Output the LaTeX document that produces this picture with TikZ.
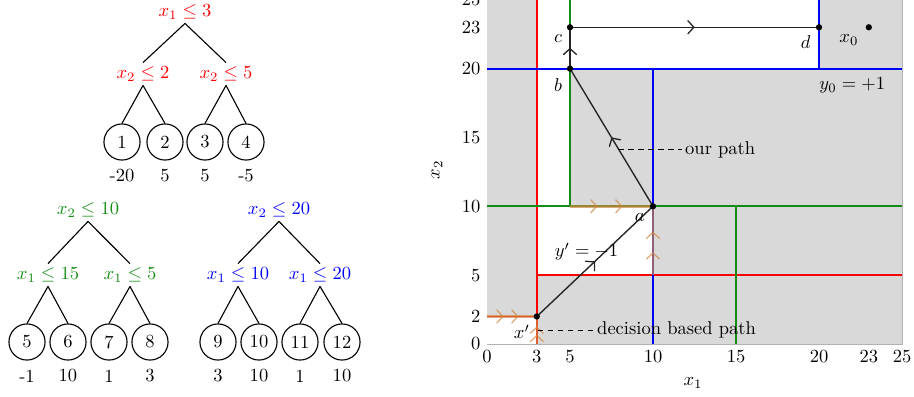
\documentclass[tikz,border=0pt]{standalone}
\usetikzlibrary{decorations.markings,arrows.meta}
\definecolor{tred}{RGB}{255,0,0}
\definecolor{tgreen}{RGB}{20,140,20}
\definecolor{tblue}{RGB}{0,0,255}
\definecolor{tbrown}{RGB}{210,135,65}
\definecolor{bggray}{RGB}{217,217,217}
\tikzset{
  cond/.style={inner sep=2pt},
  leaf/.style={draw, circle, minimum size=19.5pt, inner sep=0pt, line width=0.6pt},
  tedge/.style={line width=0.6pt},
  val/.style={inner sep=1pt},
  splitline/.style={line width=1pt},
  ourpath/.style={line width=0.75pt, black!85},
  decpath/.style={line width=1.3pt, tbrown, opacity=0.7},
  chev/.tip={Straight Barb[line width=0.7pt, length=3.2pt, width=7pt, round]},
  onearr/.style={postaction={decorate, decoration={markings, mark=at position 0.5 with {\arrow{chev}}}}},
  twoarr/.style={postaction={decorate, decoration={markings, mark=at position 0.33 with {\arrow{chev}}, mark=at position 0.63 with {\arrow{chev}}}}},
  pdot/.style={circle, fill=black, inner sep=0pt, minimum size=3.4pt},
  lbl/.style={inner sep=0pt},
  leader/.style={line width=0.5pt, dash pattern=on 3pt off 2.4pt},
}
\begin{document}
\begin{tikzpicture}[x=0.54pt, y=-0.54pt]
\useasboundingbox (0,0) rectangle (914,396);

% ---------- tree 1 (red) ----------
\node[cond, text=tred] (r1) at (185,12) {$x_1\leq 3$};
\node[cond, text=tred] (r1a) at (143,74) {$x_2\leq 2$};
\node[cond, text=tred] (r1b) at (226,74) {$x_2\leq 5$};
\node[leaf] (l1) at (122,142) {1};
\node[leaf] (l2) at (165,142) {2};
\node[leaf] (l3) at (205,142) {3};
\node[leaf] (l4) at (246,142) {4};
\node[val] (v1) at (122,176) {-20};
\node[val] (v2) at (165,176) {5};
\node[val] (v3) at (205,176) {5};
\node[val] (v4) at (246,176) {-5};
\draw[tedge] (r1.south) -- (r1a.north);
\draw[tedge] (r1.south) -- (r1b.north);
\draw[tedge] (r1a.south) -- (l1.north);
\draw[tedge] (r1a.south) -- (l2.north);
\draw[tedge] (r1b.south) -- (l3.north);
\draw[tedge] (r1b.south) -- (l4.north);

% ---------- tree 2 (green) ----------
\node[cond, text=tgreen] (r2) at (88,210) {$x_2\leq 10$};
\node[cond, text=tgreen] (r2a) at (48,275) {$x_1\leq 15$};
\node[cond, text=tgreen] (r2b) at (130,275) {$x_1\leq 5$};
\node[leaf] (l5) at (27,342) {5};
\node[leaf] (l6) at (68,342) {6};
\node[leaf] (l7) at (109,342) {7};
\node[leaf] (l8) at (150,342) {8};
\node[val] (v5) at (27,376) {-1};
\node[val] (v6) at (68,376) {10};
\node[val] (v7) at (109,376) {1};
\node[val] (v8) at (150,376) {3};
\draw[tedge] (r2.south) -- (r2a.north);
\draw[tedge] (r2.south) -- (r2b.north);
\draw[tedge] (r2a.south) -- (l5.north);
\draw[tedge] (r2a.south) -- (l6.north);
\draw[tedge] (r2b.south) -- (l7.north);
\draw[tedge] (r2b.south) -- (l8.north);

% ---------- tree 3 (blue) ----------
\node[cond, text=tblue] (r3) at (279,210) {$x_2\leq 20$};
\node[cond, text=tblue] (r3a) at (238,275) {$x_1\leq 10$};
\node[cond, text=tblue] (r3b) at (320,275) {$x_1\leq 20$};
\node[leaf] (l9) at (218,342) {9};
\node[leaf] (l10) at (259,342) {10};
\node[leaf] (l11) at (300,342) {11};
\node[leaf] (l12) at (342,342) {12};
\node[val] (v9) at (218,376) {3};
\node[val] (v10) at (259,376) {10};
\node[val] (v11) at (300,376) {1};
\node[val] (v12) at (342,376) {10};
\draw[tedge] (r3.south) -- (r3a.north);
\draw[tedge] (r3.south) -- (r3b.north);
\draw[tedge] (r3a.south) -- (l9.north);
\draw[tedge] (r3a.south) -- (l10.north);
\draw[tedge] (r3b.south) -- (l11.north);
\draw[tedge] (r3b.south) -- (l12.north);

% ---------- axis labels ----------
\node (xlab) at (693,383) {$x_1$};
\node[rotate=90] (ylab) at (437,170) {$x_2$};

% ---------- plot ----------
\begin{scope}[shift={(487,344)}, x=8.964pt, y=7.436pt]
  \fill[bggray] (0,0) rectangle (25,25);
  \fill[white] (3,10) rectangle (5,25);
  \fill[white] (5,20) rectangle (20,25);
  \fill[white] (3,5) rectangle (10,10);
  \fill[white] (0,0) rectangle (3,2);
  \draw[gray!60, line width=0.4pt] (0,0) -- (25,0) -- (25,25);

  % tick labels
  \foreach \t in {0,3,5,10,15,20,23,25} {
    \node[below] (xt\t) at (\t,0) {$\t$};
  }
  \foreach \t in {0,2,5,10,15,20,23,25} {
    \node[left] (yt\t) at (0,\t) {$\t$};
  }

  % split lines
  \draw[splitline, tred] (3,0) -- (3,25);
  \draw[splitline, tred] (3,5) -- (25,5);
  \draw[splitline, tred] (0,2) -- (3,2);
  \draw[splitline, tgreen] (0,10) -- (25,10);
  \draw[splitline, tgreen] (5,10) -- (5,25);
  \draw[splitline, tgreen] (15,0) -- (15,10);
  \draw[splitline, tblue] (0,20) -- (25,20);
  \draw[splitline, tblue] (10,0) -- (10,20);
  \draw[splitline, tblue] (20,20) -- (20,25);

  % points
  \coordinate (xp) at (3,2);
  \coordinate (pa) at (10,10);
  \coordinate (pb) at (5,20);
  \coordinate (pc) at (5,23);
  \coordinate (pd) at (20,23);
  \coordinate (x0) at (23,23);
  \coordinate (s1) at (0,2);
  \coordinate (s2) at (3,0);
  \coordinate (s3) at (5,10);
  \coordinate (s4) at (10,5);

  % decision based path
  \draw[decpath, twoarr] (s1) -- (xp);
  \draw[decpath, twoarr] (s2) -- (xp);
  \draw[decpath, twoarr] (s3) -- (pa);
  \draw[decpath, twoarr] (s4) -- (pa);

  % our path
  \draw[ourpath, onearr] (xp) -- (pa);
  \draw[ourpath, onearr] (pa) -- (pb);
  \draw[ourpath, onearr] (pb) -- (pc);
  \draw[ourpath, onearr] (pc) -- (pd);

  \foreach \p in {xp,pa,pb,pc,pd,x0} {
    \node[pdot] at (\p) {};
  }

  % point labels
  \node[lbl] (lc) at (4.28,22.2) {$c$};
  \node[lbl] (lb) at (4.28,18.8) {$b$};
  \node[lbl] (la) at (9.2,9.15) {$a$};
  \node[lbl] (ld) at (19.2,21.9) {$d$};
  \node[lbl] (lx0) at (21.8,22.1) {$x_0$};
  \node[lbl] (ly0) at (22.0,18.8) {$y_0=+1$};
  \node[lbl] (lyp) at (6.0,6.7) {$y'=-1$};
  \node[lbl] (lxp) at (2.1,0.87) {$x'$};

  % annotations
  \coordinate (op) at (7.9,14.1);
  \node[anchor=west, inner sep=1.5pt] (ourlbl) at (11.75,14.1) {our path};
  \draw[leader] (op) -- (ourlbl.west);
  \coordinate (dp) at (3.05,1.0);
  \node[anchor=west, inner sep=1.5pt] (declbl) at (6.45,1.0) {decision based path};
  \draw[leader] (dp) -- (declbl.west);
\end{scope}
\end{tikzpicture}
\end{document}
